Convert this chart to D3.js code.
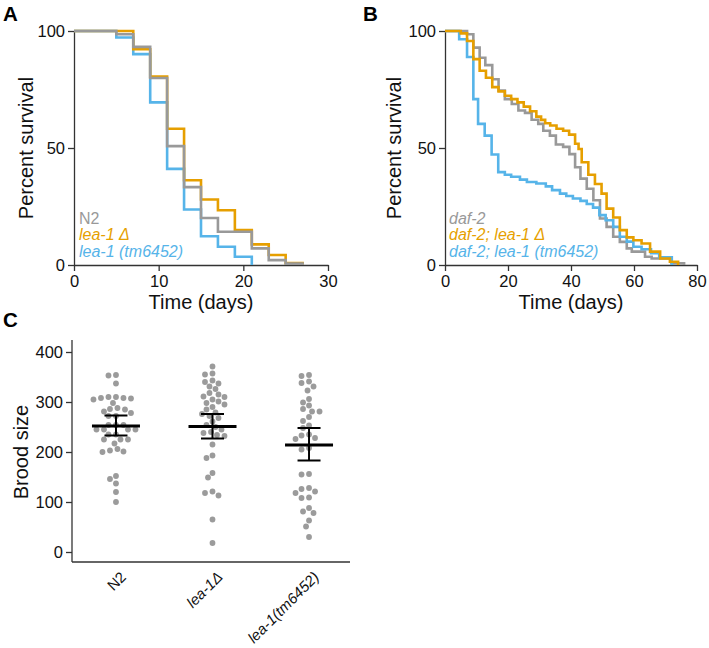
<!DOCTYPE html>
<html><head><meta charset="utf-8">
<script src="https://cdn.jsdelivr.net/npm/d3@7"></script>
<style>body{margin:0;background:#fff}svg{display:block;font-family:Arial,"Liberation Sans",sans-serif}</style>
</head><body><svg id="c" width="709" height="648"></svg>
<script>
// ---------- Panel A data: [day, percent surviving]
const aN2 = [[0,100],[5,98.6],[7,93.2],[9,79.9],[11,50.8],[13,33.3],[15,20.1],[17,14.2],[21,7.1],[23,2.1],[25,0.6],[27,0]];
const aLeaDelta = [[0,100],[7,92.2],[9,80.5],[11,58.2],[13,36.2],[15,28.0],[17,23.4],[19,14.9],[21,8.8],[23,4.3],[25,0.8],[27,0]];
const aLeaTm = [[0,100],[5,97.2],[7,90.1],[9,69.5],[11,41.1],[13,23.7],[15,12.3],[17,7.8],[19,3.5],[21,0]];
const aLegend = ["N2", "lea-1 \u0394", "lea-1 (tm6452)"];
const aXTicks = [0,10,20,30];
const survTicks = [0,50,100];

// ---------- Panel B data
const bDaf2 = [[0,100],[7,98.6],[9,92.9],[11,88.6],[12.8,85.4],[15,79.4],[17,74.5],[19,70.9],[21.2,68.8],[23.3,66],[25.4,65],[27.5,62.1],[29.6,60.3],[31.2,57.4],[33.3,55.3],[35.2,51.5],[37.5,50.5],[39.5,47.4],[41.3,41.8],[43,36.9],[45,32.6],[47.1,27.7],[49.2,19.9],[51.3,16.3],[53.4,12.1],[55.5,9.9],[57.7,7.1],[59.3,5.7],[63.5,3.5],[65.6,2.8],[71.9,0.7],[75.9,0]];
const bDafLeaDelta = [[0,100],[5,99],[7,95.7],[9,88],[11,83],[13,80],[15,76],[17,74.2],[19,72.3],[21,70.9],[23,69.5],[25,67.7],[27,65.7],[29,63.4],[30.5,62.0],[31.8,60.6],[33.4,59.6],[35.4,58.2],[37.5,57.4],[39.4,55.7],[41.3,51.8],[42.4,49.6],[43.4,43.9],[45.5,38.6],[47.6,34.6],[49.7,30.5],[51.3,24.1],[53.4,20.3],[55.5,14.9],[57.7,11.8],[59.8,10.6],[62.4,9.2],[65.1,5.7],[68.3,2.8],[71.4,1.4],[74,0]];
const bDafLeaTm = [[0,100],[4.5,96.5],[7,88.9],[9,70.9],[10.5,60.3],[12.6,55.3],[14.8,47.2],[16.9,39.7],[19,38.6],[21,37.7],[23.8,36.5],[26,35.5],[29,34.8],[32,33.6],[34,32],[36.5,30.5],[38.5,29.5],[40.6,28.4],[43,27.4],[45,26.1],[47,24.5],[49,21.3],[51,19.1],[53.4,16.3],[55.5,12.1],[57.7,10.0],[59.8,7.8],[62.4,6.7],[65.4,5.0],[68,3.3],[72,0]];
const bLegend = ["daf-2", "daf-2; lea-1 \u0394", "daf-2; lea-1 (tm6452)"];
const bXTicks = [0,20,40,60,80];

// ---------- Panel C data: brood sizes
const cCategories = ["N2", "lea-1\u0394", "lea-1(tm6452)"];
const cN2 = [354,353,337,310,310,308,308,307,305,298,288,286,285,281,278,272,272,254,254,254,245,245,245,245,235,235,225,225,225,217,206,203,201,200,152,146,137,120,100];
const cLeaDelta = [371,357,355,343,340,337,331,326,318,315,311,310,305,301,298,295,290,285,279,276,272,268,261,254,250,245,240,238,234,232,215,193,188,158,149,121,118,113,65,18];
const cLeaTm = [354,352,341,338,331,323,306,299,293,286,281,281,270,262,253,248,235,233,228,226,208,205,156,155,128,126,121,118,109,108,88,81,78,63,51,30];
const cMean = [252,251,214];
const cLow = [233,227,183];
const cHigh = [273,276,248];
const cYTicks = [0,100,200,300,400];

const ORANGE = "#E69F00", BLUE = "#56B4E9", GRAY = "#999999", AXIS = "#333";
const svg = d3.select("#c");

function styleAxis(g){
  g.selectAll("path,line").attr("stroke", AXIS).attr("stroke-width", 1.3);
  g.selectAll("text").attr("font-size", 16.5).attr("fill", "#111").attr("font-family", "Arial, 'Liberation Sans', sans-serif");
}

function survivalPanel(opt){
  const x = d3.scaleLinear().domain(opt.xDomain).range(opt.xRange);
  const y = d3.scaleLinear().domain([0,100]).range([265,31]);
  const gx = svg.append("g").attr("transform", `translate(0,${y(0)})`)
    .call(d3.axisBottom(x).tickValues(opt.xTicks).tickSize(6).tickSizeOuter(0).tickPadding(4));
  styleAxis(gx);
  const gy = svg.append("g").attr("transform", `translate(${x(0)},0)`)
    .call(d3.axisLeft(y).tickValues(survTicks).tickSize(6).tickSizeOuter(0).tickPadding(3));
  styleAxis(gy);
  const line = d3.line().x(d => x(d[0])).y(d => y(d[1])).curve(d3.curveStepAfter);
  opt.series.forEach(s => {
    svg.append("path").datum(s.data).attr("d", line).attr("fill","none")
      .attr("stroke", s.color).attr("stroke-width", 2.6).attr("stroke-linejoin","miter");
  });
  opt.legend.forEach((t,i) => {
    svg.append("text").attr("x", opt.legendX).attr("y", 223.5 + i*16.5)
      .attr("font-size", 16).attr("fill", opt.legendColors[i])
      .attr("font-style", opt.italic[i] ? "italic" : "normal").text(t);
  });
  svg.append("text").attr("transform", `translate(${opt.ylabX},148) rotate(-90)`)
    .attr("text-anchor","middle").attr("font-size", 20).attr("fill","#111").text("Percent survival");
  svg.append("text").attr("x", (opt.xRange[0]+opt.xRange[1])/2).attr("y", 309)
    .attr("text-anchor","middle").attr("font-size", 20).attr("fill","#111").text("Time (days)");
  svg.append("text").attr("x", opt.letterX).attr("y", 21).attr("font-size", 20.5)
    .attr("font-weight","bold").attr("fill","#000").text(opt.letter);
}

survivalPanel({
  xDomain:[0,30], xRange:[74,328], xTicks:aXTicks,
  series:[{data:aLeaTm,color:BLUE},{data:aLeaDelta,color:ORANGE},{data:aN2,color:GRAY}],
  legend:aLegend, legendColors:[GRAY,ORANGE,BLUE], italic:[false,true,true], legendX:79,
  ylabX:33, letter:"A", letterX:3
});
survivalPanel({
  xDomain:[0,80], xRange:[445,697], xTicks:bXTicks,
  series:[{data:bDaf2,color:GRAY},{data:bDafLeaTm,color:BLUE},{data:bDafLeaDelta,color:ORANGE}],
  legend:bLegend, legendColors:[GRAY,ORANGE,BLUE], italic:[true,true,true], legendX:449,
  ylabX:401, letter:"B", letterX:363
});

// ---------- Panel C
const yC = d3.scaleLinear().domain([0,400]).range([552,352]);
const xC = d3.scalePoint().domain(cCategories).range([73.5,351.5]).padding(0.44);
const axisY = 562;
const gyC = svg.append("g").attr("transform","translate(72,0)")
  .call(d3.axisLeft(yC).tickValues(cYTicks).tickSize(6).tickSizeOuter(0).tickPadding(3));
gyC.select(".domain").remove();
styleAxis(gyC);
svg.append("line").attr("x1",72).attr("x2",72).attr("y1",340).attr("y2",axisY).attr("stroke",AXIS).attr("stroke-width",1.3);
svg.append("line").attr("x1",72).attr("x2",350).attr("y1",axisY).attr("y2",axisY).attr("stroke",AXIS).attr("stroke-width",1.3);

cCategories.forEach((c,i) => {
  svg.append("text").attr("transform", `translate(${xC(c)+11},578) rotate(-45)`)
    .attr("text-anchor","end").attr("font-size",15).attr("fill","#111")
    .attr("font-style", i===0 ? "normal" : "italic").text(c);
});

function swarm(values, cx){
  const r = 2.9, d = 6.2;
  const placed = [];
  const sorted = values.slice().sort((a,b)=>b-a);
  sorted.forEach(v => {
    const py = yC(v);
    let best = null;
    for (let k = 0; k < 60; k++){
      const off = (k % 2 === 0 ? 1 : -1) * Math.ceil(k/2) * 1.5;
      const px = cx + off;
      if (placed.every(p => (p[0]-px)**2 + (p[1]-py)**2 >= d*d)) { best = px; break; }
    }
    placed.push([best, py]);
  });
  placed.forEach(p => svg.append("circle").attr("cx",p[0]).attr("cy",p[1]).attr("r",r).attr("fill","#9b9b9b"));
}
[cN2, cLeaDelta, cLeaTm].forEach((vals,i) => swarm(vals, xC(cCategories[i])));

cCategories.forEach((c,i) => {
  const cx = xC(c);
  svg.append("line").attr("x1",cx).attr("x2",cx).attr("y1",yC(cHigh[i])).attr("y2",yC(cLow[i])).attr("stroke","#000").attr("stroke-width",2);
  [cHigh[i], cLow[i]].forEach(v => svg.append("line").attr("x1",cx-11.5).attr("x2",cx+11.5).attr("y1",yC(v)).attr("y2",yC(v)).attr("stroke","#000").attr("stroke-width",2));
  svg.append("line").attr("x1",cx-24).attr("x2",cx+24).attr("y1",yC(cMean[i])).attr("y2",yC(cMean[i])).attr("stroke","#000").attr("stroke-width",3.2);
});

svg.append("text").attr("transform","translate(28,452) rotate(-90)").attr("text-anchor","middle")
  .attr("font-size",20).attr("fill","#111").text("Brood size");
svg.append("text").attr("x",3).attr("y",327).attr("font-size",20.5).attr("font-weight","bold").attr("fill","#000").text("C");
</script></body></html>
